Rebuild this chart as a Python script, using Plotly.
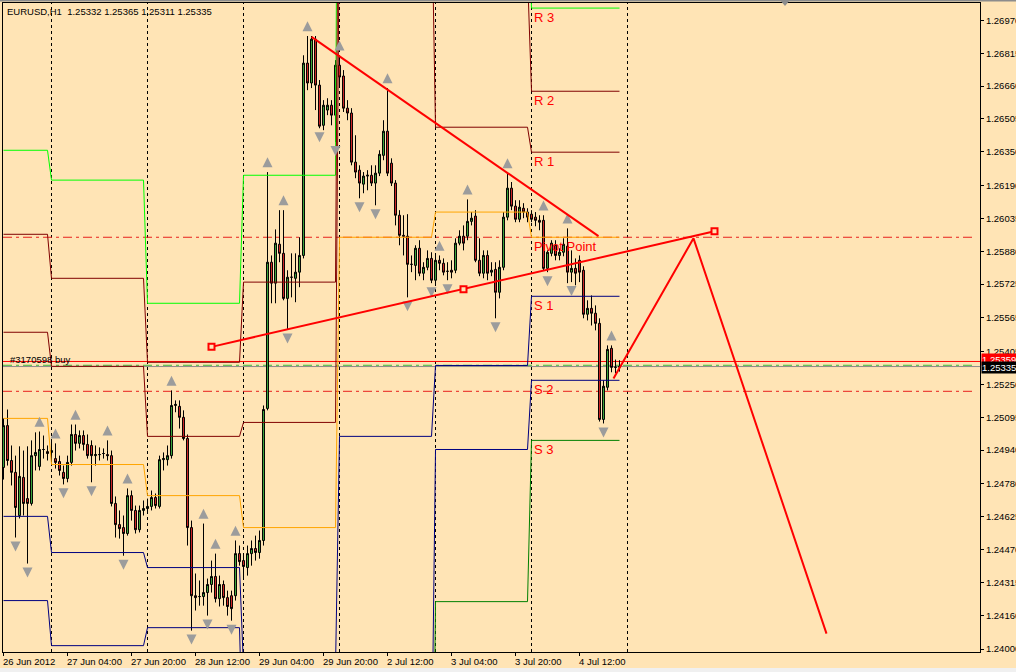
import plotly.graph_objects as go

SYMBOL_TITLE = "EURUSD,H1  1.25332 1.25365 1.25311 1.25335"

OPEN = [1.24858, 1.25056, 1.24891, 1.24835, 1.24631, 1.24811, 1.24711, 1.24688, 1.24914, 1.24863,
        1.24943, 1.24933, 1.24929, 1.24900, 1.24886, 1.24835, 1.24806, 1.24882, 1.25014, 1.24972,
        1.25009, 1.24967, 1.24962, 1.24914, 1.24919, 1.24924, 1.24919, 1.24914, 1.24688, 1.24588,
        1.24574, 1.24546, 1.24725, 1.24655, 1.24564, 1.24655, 1.24664, 1.24674, 1.24716, 1.24674,
        1.24895, 1.24895, 1.24914, 1.25151, 1.25147, 1.25095, 1.24995, 1.24574, 1.24252, 1.24248,
        1.24248, 1.24267, 1.24305, 1.24343, 1.24238, 1.24305, 1.24243, 1.24252, 1.24252, 1.24451,
        1.24418, 1.24385, 1.24451, 1.24475, 1.24456, 1.24513, 1.25137, 1.25828, 1.25729, 1.25913,
        1.25870, 1.25657, 1.25757, 1.25752, 1.25781, 1.25860, 1.26769, 1.26675, 1.26882, 1.26665,
        1.26475, 1.26547, 1.26570, 1.26523, 1.26759, 1.26708, 1.26556, 1.26533, 1.26301, 1.26263,
        1.26197, 1.26235, 1.26239, 1.26202, 1.26249, 1.26333, 1.26447, 1.26296, 1.26202, 1.26050,
        1.25955, 1.25951, 1.25818, 1.25813, 1.25894, 1.25776, 1.25804, 1.25846, 1.25743, 1.25837,
        1.25823, 1.25785, 1.25790, 1.25790, 1.25918, 1.25951, 1.25951, 1.26021, 1.26046, 1.25837,
        1.25776, 1.25860, 1.25781, 1.25794, 1.25686, 1.25804, 1.26041, 1.26178, 1.26093, 1.26031,
        1.26083, 1.26065, 1.26055, 1.26041, 1.26026, 1.26026, 1.25799, 1.25870, 1.25908, 1.25860,
        1.25875, 1.25904, 1.25781, 1.25799, 1.25837, 1.25790, 1.25582, 1.25610, 1.25587, 1.25539,
        1.25085, 1.25237, 1.25421, 1.25331, 1.25332]
HIGH = [1.25090, 1.25132, 1.24962, 1.24914, 1.24958, 1.24938, 1.24958, 1.24986, 1.25024, 1.25028,
        1.25009, 1.24962, 1.24986, 1.24972, 1.24914, 1.24867, 1.24914, 1.25061, 1.25061, 1.25033,
        1.25033, 1.25014, 1.24986, 1.24962, 1.24953, 1.24948, 1.24986, 1.24938, 1.24721, 1.24655,
        1.24631, 1.24759, 1.24749, 1.24678, 1.24678, 1.24702, 1.24711, 1.24749, 1.24735, 1.24914,
        1.24929, 1.24962, 1.25222, 1.25175, 1.25175, 1.25128, 1.25014, 1.24607, 1.24357, 1.24324,
        1.24593, 1.24333, 1.24418, 1.24451, 1.24347, 1.24324, 1.24276, 1.24276, 1.24513, 1.24489,
        1.24441, 1.24489, 1.24513, 1.24536, 1.24560, 1.25151, 1.26254, 1.25860, 1.25983, 1.26074,
        1.26074, 1.25790, 1.25870, 1.25870, 1.25946, 1.26806, 1.26897, 1.26897, 1.26897, 1.26689,
        1.26594, 1.26603, 1.26594, 1.26783, 1.26806, 1.26736, 1.26594, 1.26556, 1.26428, 1.26286,
        1.26254, 1.26263, 1.26286, 1.26286, 1.26357, 1.26499, 1.26651, 1.26319, 1.26216, 1.26074,
        1.26050, 1.26055, 1.25860, 1.25908, 1.25932, 1.25828, 1.25884, 1.25875, 1.25860, 1.25860,
        1.25846, 1.25828, 1.25837, 1.25941, 1.25979, 1.26002, 1.26125, 1.26065, 1.26074, 1.25941,
        1.25884, 1.25884, 1.25828, 1.25828, 1.25837, 1.26065, 1.26249, 1.26207, 1.26121, 1.26121,
        1.26107, 1.26083, 1.26074, 1.26065, 1.26050, 1.26050, 1.25884, 1.25932, 1.25932, 1.25894,
        1.25941, 1.25988, 1.25884, 1.25846, 1.25860, 1.25809, 1.25648, 1.25671, 1.25624, 1.25563,
        1.25270, 1.25435, 1.25435, 1.25368, 1.25365]
LOW = [1.24801, 1.24867, 1.24773, 1.24527, 1.24617, 1.24631, 1.24404, 1.24678, 1.24844, 1.24844,
       1.24900, 1.24891, 1.24882, 1.24853, 1.24820, 1.24778, 1.24788, 1.24867, 1.24938, 1.24948,
       1.24938, 1.24900, 1.24788, 1.24867, 1.24891, 1.24900, 1.24891, 1.24674, 1.24527, 1.24522,
       1.24441, 1.24536, 1.24607, 1.24546, 1.24551, 1.24631, 1.24646, 1.24655, 1.24664, 1.24664,
       1.24844, 1.24867, 1.24900, 1.25119, 1.25042, 1.24986, 1.24489, 1.24087, 1.24182, 1.24205,
       1.24205, 1.24158, 1.24267, 1.24220, 1.24201, 1.24205, 1.24158, 1.24134, 1.24229, 1.24394,
       1.24333, 1.24347, 1.24394, 1.24418, 1.24427, 1.24489, 1.25128, 1.25634, 1.25634, 1.25828,
       1.25648, 1.25510, 1.25662, 1.25639, 1.25710, 1.25846, 1.26641, 1.26651, 1.26547, 1.26461,
       1.26452, 1.26523, 1.26475, 1.26396, 1.26665, 1.26538, 1.26499, 1.26286, 1.26225, 1.26130,
       1.26154, 1.26168, 1.26188, 1.26097, 1.26235, 1.26310, 1.26235, 1.26188, 1.26002, 1.25908,
       1.25860, 1.25662, 1.25781, 1.25743, 1.25762, 1.25743, 1.25790, 1.25729, 1.25719, 1.25790,
       1.25766, 1.25743, 1.25752, 1.25776, 1.25908, 1.25884, 1.25932, 1.26002, 1.25828, 1.25762,
       1.25752, 1.25743, 1.25762, 1.25563, 1.25657, 1.25790, 1.26026, 1.26074, 1.26017, 1.26017,
       1.26036, 1.26017, 1.26017, 1.25998, 1.25979, 1.25790, 1.25781, 1.25856, 1.25837, 1.25837,
       1.25856, 1.25729, 1.25734, 1.25719, 1.25734, 1.25563, 1.25553, 1.25529, 1.25506, 1.25075,
       1.25066, 1.25222, 1.25308, 1.25303, 1.25311]
CLOSE = [1.25056, 1.24891, 1.24835, 1.24669, 1.24816, 1.24688, 1.24688, 1.24914, 1.24929, 1.24943,
         1.24943, 1.24924, 1.24938, 1.24882, 1.24844, 1.24806, 1.24882, 1.25014, 1.24972, 1.25009,
         1.24967, 1.24914, 1.24914, 1.24919, 1.24919, 1.24924, 1.24914, 1.24688, 1.24588, 1.24569,
         1.24546, 1.24725, 1.24655, 1.24564, 1.24655, 1.24664, 1.24674, 1.24716, 1.24678, 1.24895,
         1.24900, 1.24914, 1.25151, 1.25156, 1.25095, 1.24995, 1.24574, 1.24252, 1.24243, 1.24248,
         1.24267, 1.24305, 1.24343, 1.24238, 1.24305, 1.24243, 1.24201, 1.24191, 1.24451, 1.24413,
         1.24390, 1.24451, 1.24475, 1.24456, 1.24513, 1.25132, 1.25828, 1.25729, 1.25918, 1.25870,
         1.25657, 1.25757, 1.25757, 1.25781, 1.25860, 1.26769, 1.26675, 1.26882, 1.26665, 1.26471,
         1.26570, 1.26570, 1.26523, 1.26759, 1.26703, 1.26556, 1.26533, 1.26301, 1.26254, 1.26202,
         1.26235, 1.26239, 1.26202, 1.26249, 1.26338, 1.26447, 1.26249, 1.26202, 1.26050, 1.25955,
         1.25951, 1.25818, 1.25818, 1.25894, 1.25776, 1.25804, 1.25846, 1.25743, 1.25837, 1.25823,
         1.25781, 1.25785, 1.25781, 1.25918, 1.25951, 1.25918, 1.26021, 1.26036, 1.25837, 1.25776,
         1.25860, 1.25776, 1.25790, 1.25686, 1.25804, 1.26041, 1.26178, 1.26093, 1.26031, 1.26088,
         1.26065, 1.26041, 1.26031, 1.26026, 1.26017, 1.25799, 1.25875, 1.25918, 1.25860, 1.25875,
         1.25913, 1.25781, 1.25799, 1.25776, 1.25781, 1.25582, 1.25610, 1.25587, 1.25539, 1.25085,
         1.25242, 1.25416, 1.25331, 1.25332, 1.25335]

TIME_TICK_BARS = [0, 16, 32, 48, 64, 80, 96, 112, 128, 144]
TIME_TICK_LABELS = ["26 Jun 2012", "27 Jun 04:00", "27 Jun 20:00", "28 Jun 12:00", "29 Jun 04:00",
                    "29 Jun 20:00", "2 Jul 12:00", "3 Jul 04:00", "3 Jul 20:00", "4 Jul 12:00"]
PRICE_TICKS = [1.26970, 1.26815, 1.26660, 1.26505, 1.26350, 1.26190, 1.26035, 1.25880, 1.25725,
               1.25565, 1.25405, 1.25250, 1.25095, 1.24940, 1.24780, 1.24625, 1.24470, 1.24315,
               1.24160, 1.24000]
DAY_START_BARS = [0, 12, 36, 60, 84, 108, 132]
DAY_SEPARATOR_BARS = [12, 36, 60, 84, 108, 132, 156]

PIVOT_R3 = [1.26357, 1.26216, 1.25634, 1.26239, 1.30113, 1.27592, 1.27029]
PIVOT_R2 = [1.25960, 1.25752, 1.25355, 1.25734, 1.28500, 1.27190, 1.26636]
PIVOT_R1 = [1.25497, 1.25336, 1.25005, 1.25071, 1.27559, 1.26466, 1.26348]
PIVOT_PP = [1.25090, 1.24872, 1.24725, 1.24574, 1.25946, 1.26065, 1.25946]
PIVOT_S1 = [1.24627, 1.24456, 1.24385, 1.23912, 1.25005, 1.25340, 1.25667]
PIVOT_S2 = [1.24229, 1.24016, 1.24101, 1.23415, 1.23392, 1.24943, 1.25270]
PIVOT_S3 = [1.23756, 1.23576, 1.23756, 1.22753, 1.22451, 1.24224, 1.24986]
PIVOT_NAMES = ["R 3", "R 2", "R 1", "Pivot Point", "S 1", "S 2", "S 3"]

FRACTAL_UP_BARS = [9, 13, 18, 26, 31, 42, 50, 53, 58, 66, 70, 76, 84, 96, 109, 116, 126, 135, 141, 152]
FRACTAL_DOWN_BARS = [3, 6, 15, 22, 30, 47, 51, 57, 71, 79, 83, 89, 93, 101, 107, 111, 123, 136, 142, 150]

TREND_DOWN_BARS = [77, 148.75]
TREND_DOWN_PRICES = [1.26893, 1.25951]
TREND_UP_BARS = [52, 115, 177.75]
TREND_UP_PRICES = [1.25428, 1.25700, 1.25974]
PROJECTION_BARS = [152.5, 172.5, 205.75]
PROJECTION_PRICES = [1.25279, 1.25941, 1.24073]

DASHDOT_LEVELS = [1.25946, 1.25218]
ORDER_PRICE = 1.25359
ORDER_LABEL = "#3170598 buy"
GREEN_LEVEL = 1.25341
BID_PRICE = 1.25335

# ---------------- styling ----------------
BG = "#FFE4B5"
FONT = "Liberation Sans"
W, H = 1016, 672
ML, MR, MT, MB = 3, 36, 3, 20
PW, PH = W - ML - MR, H - MT - MB

bars = list(range(len(OPEN)))


def day_of(i):
    d = 0
    for k, s in enumerate(DAY_START_BARS):
        if i >= s:
            d = k
    return d


fig = go.Figure()

pivot_sets = [(PIVOT_R3, "#00FF00"), (PIVOT_R2, "#800000"), (PIVOT_R1, "#800000"),
              (PIVOT_PP, "#FFA500"), (PIVOT_S1, "#000080"), (PIVOT_S2, "#000080"),
              (PIVOT_S3, "#008000")]
for levels, col in pivot_sets:
    fig.add_trace(go.Scatter(x=bars, y=[levels[day_of(i)] for i in bars], mode="lines",
                             line=dict(color=col, width=1), hoverinfo="skip", showlegend=False))

fig.add_trace(go.Candlestick(
    x=bars, open=OPEN, high=HIGH, low=LOW, close=CLOSE,
    increasing=dict(fillcolor="#3DAA3D", line=dict(color="black", width=1)),
    decreasing=dict(fillcolor="#D72828", line=dict(color="black", width=1)),
    whiskerwidth=0, showlegend=False, hoverinfo="skip"))

UP_OFF, DN_OFF = 0.00070, 0.00066
fig.add_trace(go.Scatter(x=FRACTAL_UP_BARS, y=[HIGH[i] + UP_OFF for i in FRACTAL_UP_BARS],
                         mode="markers", marker=dict(symbol="arrow-up", size=10, color="#9C9C9C",
                                                     line=dict(width=0)),
                         hoverinfo="skip", showlegend=False))
fig.add_trace(go.Scatter(x=FRACTAL_DOWN_BARS, y=[LOW[i] - DN_OFF for i in FRACTAL_DOWN_BARS],
                         mode="markers", marker=dict(symbol="arrow-down", size=10, color="#9C9C9C",
                                                     line=dict(width=0)),
                         hoverinfo="skip", showlegend=False))

for xs, ys in [(TREND_DOWN_BARS, TREND_DOWN_PRICES), (TREND_UP_BARS, TREND_UP_PRICES),
               (PROJECTION_BARS, PROJECTION_PRICES)]:
    fig.add_trace(go.Scatter(x=xs, y=ys, mode="lines", line=dict(color="#FF0000", width=2),
                             hoverinfo="skip", showlegend=False))
fig.add_trace(go.Scatter(x=TREND_UP_BARS, y=TREND_UP_PRICES, mode="markers",
                         marker=dict(symbol="square", size=6, color=BG,
                                     line=dict(color="#FF0000", width=2)),
                         hoverinfo="skip", showlegend=False))

shapes = []
for b in DAY_SEPARATOR_BARS:
    shapes.append(dict(type="line", xref="x", yref="paper", x0=b, x1=b, y0=0, y1=1,
                       line=dict(color="black", width=1, dash="3px,3px"), layer="below"))
for lv in DASHDOT_LEVELS:
    shapes.append(dict(type="line", xref="paper", yref="y", x0=0, x1=0.993, y0=lv, y1=lv,
                       line=dict(color="#E8201C", width=1, dash="9px,4px,3px,4px"), layer="below"))
shapes.append(dict(type="line", xref="paper", yref="y", x0=0, x1=1, y0=ORDER_PRICE, y1=ORDER_PRICE,
                   line=dict(color="#FF0000", width=1), layer="below"))
shapes.append(dict(type="line", xref="paper", yref="y", x0=0, x1=0.993, y0=GREEN_LEVEL, y1=GREEN_LEVEL,
                   line=dict(color="#3CB83C", width=1, dash="9px,4px,3px,4px"), layer="below"))
shapes.append(dict(type="line", xref="paper", yref="y", x0=0, x1=1, y0=BID_PRICE, y1=BID_PRICE,
                   line=dict(color="#8C8C8C", width=1), layer="below"))
# window strips
shapes.append(dict(type="rect", xref="paper", yref="paper", x0=-ML / PW, x1=(W - ML) / PW,
                   y0=(PH + MT - 1.5) / PH, y1=(PH + MT) / PH, fillcolor="#8C8C8C", line=dict(width=0)))
shapes.append(dict(type="rect", xref="paper", yref="paper", x0=-ML / PW, x1=(W - ML) / PW,
                   y0=-(MB) / PH, y1=-(MB - 4) / PH, fillcolor="#F0F0F0", line=dict(width=0)))
# chart shift marker
cx = (785 - ML) / PW
shapes.append(dict(type="path", xref="paper", yref="paper",
                   path=f"M {cx - 5 / PW},{(PH + MT) / PH} L {cx + 5 / PW},{(PH + MT) / PH} "
                        f"L {cx},{(PH + MT - 6) / PH} Z",
                   fillcolor="#8C8C8C", line=dict(width=0)))

ann = []
ann.append(dict(text=SYMBOL_TITLE, xref="paper", yref="paper", x=0, y=1, xanchor="left",
                yanchor="middle", xshift=2, yshift=-8.5, showarrow=False,
                font=dict(family=FONT, size=9.5, color="black")))
for b, lab in zip(TIME_TICK_BARS, TIME_TICK_LABELS):
    ann.append(dict(text=lab, xref="x", yref="paper", x=b, y=0, xanchor="left", yanchor="middle",
                    xshift=-3, yshift=-9.5, showarrow=False,
                    font=dict(family=FONT, size=9.5, color="black")))
last_day = len(DAY_START_BARS) - 1
for name, (levels, _c) in zip(PIVOT_NAMES, pivot_sets):
    ann.append(dict(text=name, xref="x", yref="y", x=DAY_START_BARS[last_day], y=levels[last_day],
                    xanchor="left", yanchor="top", xshift=0, yshift=0, showarrow=False,
                    font=dict(family=FONT, size=13, color="#FF0000")))
ann.append(dict(text=ORDER_LABEL, xref="x", yref="y", x=1, y=ORDER_PRICE, xanchor="left",
                yanchor="middle", yshift=2, showarrow=False,
                font=dict(family=FONT, size=9.5, color="black")))
ann.append(dict(text=f"{ORDER_PRICE:.5f}", xref="paper", yref="y", x=1, y=ORDER_PRICE,
                xanchor="left", yanchor="middle", xshift=1, yshift=2, showarrow=False,
                bgcolor="#FF0000", borderpad=0, font=dict(family=FONT, size=9.5, color="white")))
ann.append(dict(text=f"{BID_PRICE:.5f}", xref="paper", yref="y", x=1, y=BID_PRICE,
                xanchor="left", yanchor="middle", xshift=1, yshift=-1, showarrow=False,
                bgcolor="black", borderpad=0, font=dict(family=FONT, size=9.5, color="white")))

fig.update_layout(
    width=W, height=H, margin=dict(l=ML, r=MR, t=MT, b=MB, pad=0, autoexpand=False),
    paper_bgcolor=BG, plot_bgcolor=BG, showlegend=False, hovermode=False,
    shapes=shapes, annotations=ann,
    font=dict(family=FONT, size=9.5, color="black"),
    xaxis=dict(range=[-0.125, 244.125], showgrid=False, zeroline=False, showline=True,
               linecolor="black", linewidth=1, mirror=True, ticks="outside", ticklen=3,
               tickcolor="black", tickvals=TIME_TICK_BARS, showticklabels=False,
               rangeslider=dict(visible=False), fixedrange=True, automargin=False),
    yaxis=dict(range=[1.23986, 1.27053], side="right", showgrid=False, zeroline=False,
               showline=True, linecolor="black", linewidth=1, mirror=True, ticks="outside",
               ticklen=3, tickcolor="black", tickvals=PRICE_TICKS,
               ticktext=[f"{v:.5f}" for v in PRICE_TICKS],
               tickfont=dict(family=FONT, size=9.5, color="black"), fixedrange=True,
               automargin=False),
)

fig.write_html("out.html", config={"displayModeBar": False},
               post_script="document.body.style.margin='0';document.body.style.padding='0';"
                           "document.documentElement.style.overflow='hidden';")
